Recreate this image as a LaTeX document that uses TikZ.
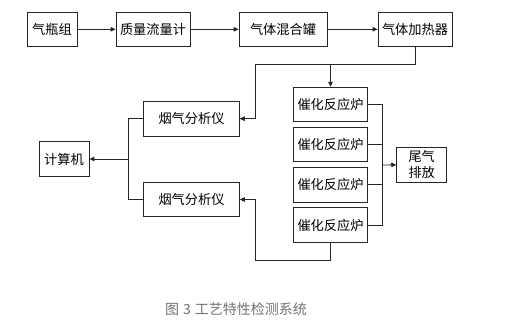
\documentclass[tikz,border=0pt]{standalone}
\usepackage{fontspec}
\newfontfamily\cjk{Noto Sans CJK SC}
\usepackage{tikz}
\usetikzlibrary{arrows.meta}

\begin{document}
\begin{tikzpicture}[x=1pt,y=-1pt,line width=0.8pt,
  box/.style={draw=black!85, line width=0.9pt, minimum height=34.5pt, inner sep=0pt,
    font=\cjk\fontsize{13.2}{16}\selectfont, align=center},
  flow/.style={-{Triangle[length=5pt,width=4.5pt]}, draw=black!85}]
  \useasboundingbox[fill=white] (0,0) rectangle (506,327);

  % top row
  \node[box, minimum width=50pt] (bottle) at (52,29.3) {气瓶组};
  \node[box, minimum width=74pt] (meter) at (153,29.3) {质量流量计};
  \node[box, minimum width=88pt] (mixer) at (283,29.3) {气体混合罐};
  \node[box, minimum width=74pt] (heater) at (415,29.3) {气体加热器};

  % reactors
  \foreach \yy/\name in {104.5/r1,144.5/r2,184.8/r3,225/r4} {
    \node[box, minimum width=74.4pt] (\name) at (330.5,\yy) {催化反应炉};
  }
  \node[box, minimum width=50pt, minimum height=35pt] (exhaust) at (421.7,164.8) {尾气\\排放};

  % analysers and computer
  \node[box, minimum width=95.6pt] (ana1) at (191.5,118.7) {烟气分析仪};
  \node[box, minimum width=95.6pt] (ana2) at (191.5,199.5) {烟气分析仪};
  \node[box, minimum width=50pt] (computer) at (64,159) {计算机};

  \coordinate (split) at (255,64);
  \coordinate (merge) at (128,159);
  \coordinate (vent) at (382,165);
  \coordinate (back) at (255,260);

  \draw[flow] (bottle) -- (meter);
  \draw[flow] (meter) -- (mixer);
  \draw[flow] (mixer) -- (heater);
  \draw[flow] (heater.south) |- (split) |- (ana1.east);
  \draw[flow] (r1.north |- split) -- (r1.north);

  \foreach \name in {r1,r2,r3,r4} {
    \draw[draw=black!85] (\name.east) -| (vent);
  }
  \draw[flow] (vent) -- (exhaust.west);

  \draw[flow] (r4.south) |- (back) |- (ana2.east);

  \draw[draw=black!85] (ana1.west) -| (merge);
  \draw[draw=black!85] (ana2.west) -| (merge);
  \draw[flow] (merge) -- (computer.east);

  \node[text=black!55, font=\cjk\fontsize{14}{16}\selectfont] (caption) at (236,309) {图\hspace{4pt}3\hspace{4pt}工艺特性检测系统};
\end{tikzpicture}
\end{document}
